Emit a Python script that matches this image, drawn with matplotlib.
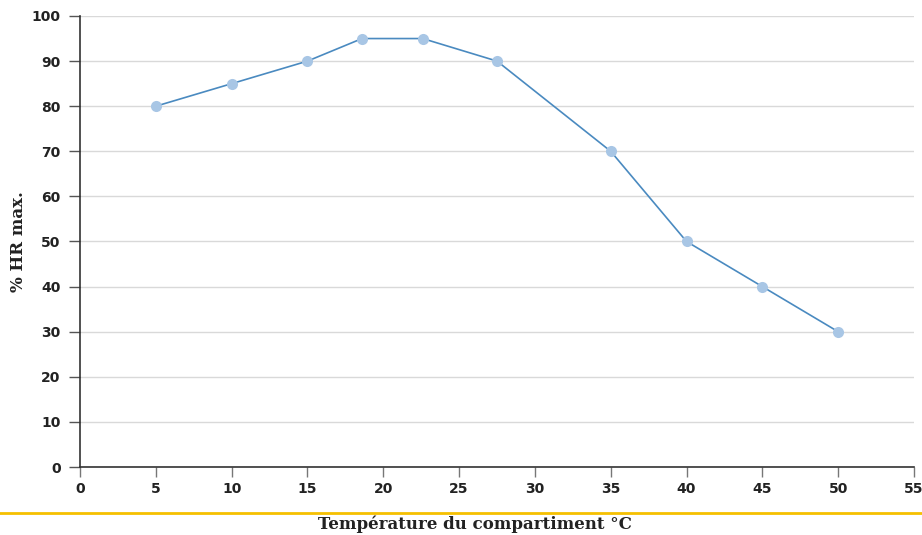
import matplotlib
matplotlib.use('Agg')
import matplotlib.pyplot as plt
from matplotlib.lines import Line2D

# données
temperature = [5, 10, 15, 18.6, 22.6, 27.5, 35, 40, 45, 50]
hr_max = [80, 85, 90, 95, 95, 90, 70, 50, 40, 30]
x_ticks = [0, 5, 10, 15, 20, 25, 30, 35, 40, 45, 50, 55]
y_ticks = [0, 10, 20, 30, 40, 50, 60, 70, 80, 90, 100]

fig = plt.figure(figsize=(9.22, 5.35), dpi=100)
ax = fig.add_axes([0.0868, 0.1271, 0.9045, 0.843])

ax.plot(temperature, hr_max, color='#4a8ac0', linewidth=1.2, zorder=3)
ax.plot(temperature, hr_max, linestyle='none', marker='o', markersize=8,
        markerfacecolor='#a8c6e5', markeredgecolor='none', zorder=4)

ax.set_xlim(0, 55)
ax.set_ylim(0, 100)
ax.set_xticks(x_ticks)
ax.set_yticks(y_ticks)

ax.yaxis.grid(True, color='#d9d9d9', linewidth=1)
ax.set_axisbelow(True)
for s in ['top', 'right']:
    ax.spines[s].set_visible(False)
for s in ['left', 'bottom']:
    ax.spines[s].set_color('#333333')
    ax.spines[s].set_linewidth(1.2)

tick_font = {'family': 'DejaVu Sans', 'weight': 'bold', 'size': 10}
ax.tick_params(axis='y', length=8, width=1, color='#555555', pad=6, labelcolor='#222222')
ax.tick_params(axis='x', length=7, width=1, color='#777777', pad=4, labelcolor='#222222')
for lab in ax.get_xticklabels() + ax.get_yticklabels():
    lab.set_fontproperties(tick_font)

ax.set_ylabel('% HR max.', family='DejaVu Serif', weight='bold', fontsize=12,
              color='#222222', labelpad=3)
fig.text(0.515, 0.003, 'Température du compartiment °C', family='DejaVu Serif',
         weight='bold', fontsize=12, color='#222222', ha='center', va='bottom')

# ligne jaune sous l'axe
fig.add_artist(Line2D([0, 1], [0.041, 0.041], transform=fig.transFigure,
                      color='#f5c000', linewidth=2))

fig.savefig('out.png', dpi=100)
